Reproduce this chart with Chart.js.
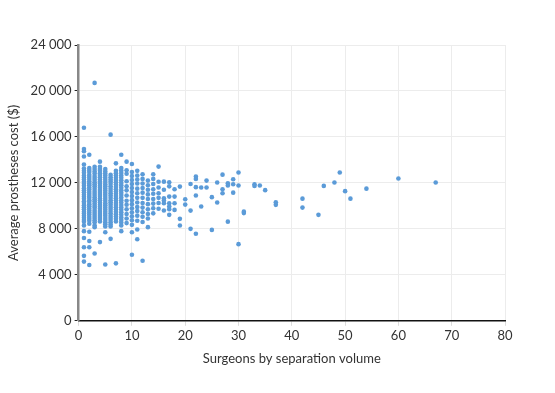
<!DOCTYPE html>
<html>
<head>
<meta charset="utf-8">
<script src="https://cdn.jsdelivr.net/npm/chart.js@4"></script>
<style>
  html, body { margin: 0; padding: 0; background: #fff; }
  #wrap { width: 555px; height: 393px; position: relative; }
</style>
</head>
<body>
<div id="wrap"><canvas id="grafico"></canvas></div>
<script>
// surgeon separation volume (x) and the average costs seen at each volume
const volumes = [1, 2, 3, 4, 5, 6, 7, 8, 9, 10, 11, 12, 13, 14, 15, 16, 17, 18, 19, 20,
  21, 22, 23, 24, 25, 26, 27, 28, 29, 30, 31, 33, 34, 35, 37, 42, 45, 46, 48, 49, 50, 51, 54, 60, 67];
const costs = [
  [16800, 14950, 14750, 14300, 13600, 13250, 13050, 12880, 12650, 12480, 12300, 12100, 11920, 11750, 11530, 11350, 11180, 10960, 10800, 10620, 10400, 10250, 10050, 9880, 9700, 9500, 9330, 9150, 8960, 8780, 8620, 8300, 7800, 7200, 6400, 5650, 5150],
  [14450, 13300, 13120, 12950, 12700, 12520, 12330, 12150, 11950, 11800, 11600, 11420, 11230, 11050, 10870, 10700, 10500, 10330, 10150, 9960, 9780, 9600, 9420, 9250, 9050, 8880, 8700, 8450, 7750, 6950, 6400, 4850],
  [20700, 13400, 13200, 13000, 12820, 12600, 12420, 12250, 12050, 11880, 11700, 11500, 11300, 11120, 10950, 10760, 10580, 10400, 10200, 10020, 9850, 9650, 9470, 9300, 9120, 8940, 8760, 8580, 8300, 8150, 5850],
  [13850, 13400, 13220, 13050, 12850, 12680, 12500, 12300, 12120, 11940, 11750, 11580, 11390, 11200, 11030, 10850, 10650, 10480, 10300, 10100, 9930, 9750, 9550, 9380, 9200, 9030, 8850, 8650, 6850],
  [13200, 13000, 12820, 12640, 12450, 12260, 12080, 11890, 11700, 11520, 11340, 11150, 10970, 10780, 10600, 10420, 10230, 10050, 9870, 9680, 9500, 9320, 9140, 8950, 8770, 8580, 8400, 8200, 7700, 4900],
  [16200, 12700, 12500, 12300, 12120, 11920, 11700, 11500, 11300, 11100, 10900, 10700, 10500, 10320, 10130, 9930, 9750, 9550, 9350, 9150, 8960, 8780, 8580, 8380, 8200, 7130],
  [13700, 13050, 12850, 12640, 12450, 12250, 12050, 11860, 11650, 11450, 11250, 11050, 10850, 10660, 10460, 10260, 10070, 9880, 9680, 9480, 9280, 9080, 8880, 8650, 5000],
  [14450, 13300, 13080, 12870, 12650, 12440, 12230, 12000, 11800, 11580, 11360, 11150, 10940, 10720, 10500, 10300, 10080, 9870, 9660, 9440, 9230, 9000, 8780, 8550, 8300, 7800],
  [13850, 13100, 12800, 12150, 11700, 11350, 10900, 10450, 10100, 9700, 9300, 8900, 8500],
  [13650, 12950, 12600, 12250, 11900, 11550, 11200, 10850, 10500, 10150, 9800, 9450, 9100, 8750, 8350, 7700, 5750],
  [13050, 12650, 12300, 11950, 11500, 11100, 10700, 10300, 9900, 9550, 9150, 8700, 7950, 7100],
  [12750, 12350, 11950, 11550, 11150, 10700, 10250, 9850, 9450, 9050, 8600, 5220],
  [12200, 11800, 11400, 11000, 10600, 10150, 9700, 9300, 8900, 8150],
  [12750, 12350, 11900, 11450, 11050, 10600, 10200, 9800, 9350],
  [13420, 12100, 11600, 11100, 10700, 10250, 9750],
  [12110, 11400, 10670, 10460, 10230, 9600],
  [12060, 11700, 10810, 10230, 9940, 9710, 9220],
  [11450, 10810, 10230, 9650],
  [11680, 8870, 8290],
  [10580, 10110],
  [11910, 9590, 8000],
  [12550, 12350, 11630, 10900, 7570],
  [11600, 9940],
  [12200, 11600],
  [10760, 7910],
  [12030, 10290],
  [12720, 11450, 11100],
  [11970, 11770, 8630],
  [12320, 11880, 11150],
  [12900, 11770, 6670],
  [9500, 9370],
  [11880, 11740],
  [11770],
  [11370],
  [10320, 10090],
  [10630, 9850],
  [9220],
  [11740],
  [12030],
  [12900],
  [11280],
  [10630],
  [11500],
  [12380],
  [12030]
];

const puntos = [];
volumes.forEach((v, i) => costs[i].forEach(c => puntos.push({ x: v, y: c })));

const fuente = "'Lato', 'Noto Sans', sans-serif";

new Chart(document.getElementById('grafico').getContext('2d'), {
  type: 'scatter',
  data: {
    datasets: [{
      data: puntos,
      backgroundColor: '#5b9bd8',
      borderWidth: 0,
      pointRadius: 2.3,
      pointHoverRadius: 2.3
    }]
  },
  options: {
    responsive: true,
    maintainAspectRatio: false,
    animation: false,
    layout: { padding: { top: 45, right: 50, bottom: 22, left: 2 } },
    plugins: { legend: { display: false }, tooltip: { enabled: false } },
    scales: {
      x: {
        type: 'linear',
        min: 0,
        max: 80,
        ticks: { stepSize: 10, color: '#333', font: { family: fuente, size: 13 }, padding: 2 },
        grid: { color: '#ececec', tickColor: '#dcdcdc', tickLength: 5 },
        border: { color: '#111', width: 1.5 },
        title: {
          display: true,
          text: 'Surgeons by separation volume',
          color: '#333',
          font: { family: fuente, size: 13 },
          padding: { top: 6 }
        }
      },
      y: {
        min: 0,
        max: 24000,
        ticks: {
          stepSize: 4000,
          color: '#333',
          font: { family: fuente, size: 13 },
          padding: 3,
          callback: v => v.toLocaleString('en-US').replace(',', ' ')
        },
        grid: { color: '#ececec', tickColor: '#222', tickLength: 4 },
        border: { color: '#888', width: 2.5 },
        title: {
          display: true,
          text: 'Average prostheses cost ($)',
          color: '#333',
          font: { family: fuente, size: 13 },
          padding: { bottom: 6 }
        }
      }
    }
  }
});
</script>
</body>
</html>
